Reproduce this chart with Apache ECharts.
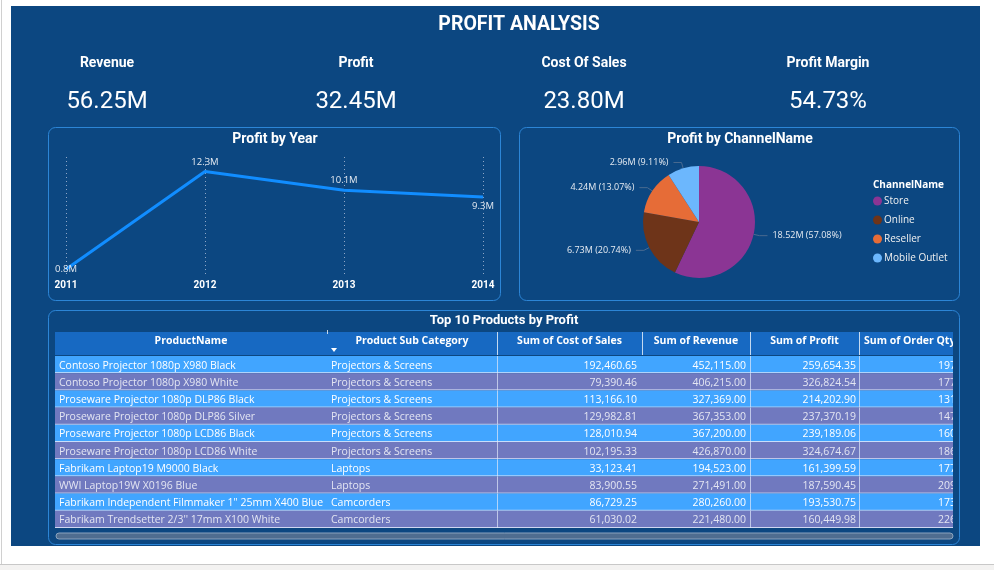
<!DOCTYPE html>
<html>
<head>
<meta charset="utf-8">
<script src="https://cdn.jsdelivr.net/npm/echarts@6/dist/echarts.min.js"></script>
<style>
html,body{margin:0;padding:0;background:#fff;}
#main{width:994px;height:570px;}
</style>
</head>
<body>
<div id="main"></div>
<script>
// KPI cards
const kpiLabels = ['Revenue', 'Profit', 'Cost Of Sales', 'Profit Margin'];
const kpiValues = ['56.25M', '32.45M', '23.80M', '54.73%'];

// Profit by Year (M)
const years = ['2011', '2012', '2013', '2014'];
const yearProfit = [0.8, 12.3, 10.1, 9.3];

// Profit by ChannelName (M)
const channels = ['Store', 'Online', 'Reseller', 'Mobile Outlet'];
const channelProfit = [18.52, 6.73, 4.24, 2.96];
const channelPct = [57.08, 20.74, 13.07, 9.11];

// Top 10 Products by Profit
const tableHeaders = ['ProductName', 'Product Sub Category', 'Sum of Cost of Sales', 'Sum of Revenue', 'Sum of Profit', 'Sum of Order Qty'];
const productNames = [
  'Contoso Projector 1080p X980 Black',
  'Contoso Projector 1080p X980 White',
  'Proseware Projector 1080p DLP86 Black',
  'Proseware Projector 1080p DLP86 Silver',
  'Proseware Projector 1080p LCD86 Black',
  'Proseware Projector 1080p LCD86 White',
  'Fabrikam Laptop19 M9000 Black',
  'WWI Laptop19W X0196 Blue',
  'Fabrikam Independent Filmmaker 1" 25mm X400 Blue',
  "Fabrikam Trendsetter 2/3'' 17mm X100 White"
];
const subCategories = ['Projectors & Screens', 'Projectors & Screens', 'Projectors & Screens', 'Projectors & Screens',
  'Projectors & Screens', 'Projectors & Screens', 'Laptops', 'Laptops', 'Camcorders', 'Camcorders'];
const costOfSales = [192460.65, 79390.46, 113166.10, 129982.81, 128010.94, 102195.33, 33123.41, 83900.55, 86729.25, 61030.02];
const revenue = [452115.00, 406215.00, 327369.00, 367353.00, 367200.00, 426870.00, 194523.00, 271491.00, 280260.00, 221480.00];
const profit = [259654.35, 326824.54, 214202.90, 237370.19, 239189.06, 324674.67, 161399.59, 187590.45, 193530.75, 160449.98];
const orderQty = [197, 177, 131, 147, 160, 186, 177, 209, 173, 226];

const PANEL = '#0c4781';
const BORDER = '#2c85d6';
const TITLE_FONT = 'Roboto, "DejaVu Sans", sans-serif';
const BODY_FONT = '"Open Sans", "Noto Sans", sans-serif';

const chart = echarts.init(document.getElementById('main'));

// column layout of the table (px from table left)
const colEdges = [0, 272, 442, 587, 695, 804, 898];
const tableLeft = 55;

function fmt(v) {
  return v.toLocaleString('en-US', { minimumFractionDigits: 2, maximumFractionDigits: 2 });
}

const graphics = [
  // page bits
  { type: 'rect', shape: { x: 0, y: 564, width: 994, height: 6 }, style: { fill: '#f3f2f1' }, z: -20 },
  { type: 'line', shape: { x1: 0, y1: 564.5, x2: 994, y2: 564.5 }, style: { stroke: '#c8c8c8', lineWidth: 1 }, z: -20 },
  { type: 'line', shape: { x1: 1.5, y1: 0, x2: 1.5, y2: 564 }, style: { stroke: '#d0d0d0', lineWidth: 1 }, z: -20 },
  // main panel
  { type: 'rect', shape: { x: 11, y: 6, width: 969, height: 540 }, style: { fill: PANEL }, z: -10 },
  // cards
  { type: 'rect', shape: { x: 48.5, y: 127.5, width: 452, height: 173, r: 7 }, style: { fill: PANEL, stroke: BORDER, lineWidth: 1 }, z: -5 },
  { type: 'rect', shape: { x: 519.5, y: 127.5, width: 440, height: 173, r: 7 }, style: { fill: PANEL, stroke: BORDER, lineWidth: 1 }, z: -5 },
  { type: 'rect', shape: { x: 48.5, y: 310.5, width: 911, height: 234, r: 7 }, style: { fill: PANEL, stroke: BORDER, lineWidth: 1 }, z: -5 },
  // titles
  { type: 'text', x: 519, y: 25.5, style: { text: 'PROFIT ANALYSIS', fill: '#ffffff', font: 'bold 19.5px ' + TITLE_FONT, align: 'center', verticalAlign: 'middle' } },
  { type: 'text', x: 275, y: 139, style: { text: 'Profit by Year', fill: '#ffffff', font: 'bold 14px ' + TITLE_FONT, align: 'center', verticalAlign: 'middle' } },
  { type: 'text', x: 740, y: 139, style: { text: 'Profit by ChannelName', fill: '#ffffff', font: 'bold 14px ' + TITLE_FONT, align: 'center', verticalAlign: 'middle' } },
  { type: 'text', x: 504, y: 321, style: { text: 'Top 10 Products by Profit', fill: '#ffffff', font: 'bold 13px ' + TITLE_FONT, align: 'center', verticalAlign: 'middle' } },
  { type: 'text', x: 873, y: 185, style: { text: 'ChannelName', fill: '#ffffff', font: 'bold 10px ' + BODY_FONT, align: 'left', verticalAlign: 'middle' } },
  // table header
  { type: 'rect', shape: { x: 55, y: 332, width: 898, height: 23 }, style: { fill: '#1769c2' }, z: 1 },
  { type: 'polygon', shape: { points: [[331, 348], [337, 348], [334, 352]] }, style: { fill: '#ffffff' }, z: 3 },
  // scroll bar
  { type: 'rect', shape: { x: 56, y: 533, width: 897, height: 6, r: 3 }, style: { fill: '#4f6d90', stroke: '#8aa3be', lineWidth: 1 }, z: 1 },
  // cover overflow of the clipped last header
  { type: 'rect', shape: { x: 953, y: 331, width: 6, height: 25 }, style: { fill: PANEL }, z: 5 }
];

kpiLabels.forEach((t, i) => {
  const x = [107, 356, 584, 828][i];
  graphics.push({ type: 'text', x: x, y: 63, style: { text: t, fill: '#ffffff', font: 'bold 14px ' + TITLE_FONT, align: 'center', verticalAlign: 'middle' } });
  graphics.push({ type: 'text', x: x, y: 102, style: { text: kpiValues[i], fill: '#ffffff', font: '24px ' + TITLE_FONT, align: 'center', verticalAlign: 'middle' } });
});

tableHeaders.forEach((t, i) => {
  const last = i === tableHeaders.length - 1;
  const x = last ? tableLeft + colEdges[i] + 5 : tableLeft + (colEdges[i] + colEdges[i + 1]) / 2;
  graphics.push({ type: 'text', x: x, y: 341.5, z: 3, style: { text: t, fill: '#ffffff', font: 'bold 10.5px ' + BODY_FONT, align: last ? 'left' : 'center', verticalAlign: 'middle' } });
  if (i > 0) {
    const ex = tableLeft + colEdges[i] + 0.5;
    graphics.push({ type: 'line', z: 3, shape: { x1: ex, y1: i >= 2 ? 332 : 330, x2: ex, y2: i >= 2 ? 355 : 334 }, style: { stroke: 'rgba(255,255,255,0.75)', lineWidth: 1 } });
  }
});

function renderRow(params, api) {
  const r = api.value(0);
  const c = api.coord([0, r]);
  const h = api.size([0, 1])[1];
  const y0 = c[1] - h / 2;
  const X = v => api.coord([v, r])[0];
  const blue = r % 2 === 0;
  const txt = blue ? '#ffffff' : '#e3e5f2';
  const children = [
    { type: 'rect', shape: { x: X(0), y: y0, width: X(colEdges[6]) - X(0), height: h }, style: { fill: blue ? '#41a5ff' : '#7079bf' } },
    { type: 'line', shape: { x1: X(0), y1: y0 + h - 0.5, x2: X(colEdges[6]), y2: y0 + h - 0.5 }, style: { stroke: 'rgba(225,232,250,0.85)', lineWidth: 1 } }
  ];
  [2, 4, 5].forEach(k => {
    children.push({ type: 'line', shape: { x1: X(colEdges[k]) + 0.5, y1: y0, x2: X(colEdges[k]) + 0.5, y2: y0 + h }, style: { stroke: 'rgba(225,232,250,0.7)', lineWidth: 1 } });
  });
  const cells = [
    [productNames[r], X(4), 'left'],
    [subCategories[r], X(276), 'left'],
    [fmt(costOfSales[r]), X(582), 'right'],
    [fmt(revenue[r]), X(691), 'right'],
    [fmt(profit[r]), X(801), 'right'],
    [String(orderQty[r]), X(883), 'left']
  ];
  cells.forEach(cell => {
    children.push({ type: 'text', style: { text: cell[0], x: cell[1], y: c[1] + 1, align: cell[2], verticalAlign: 'middle', fill: txt, fontSize: 10.5, fontFamily: '"Open Sans", "Noto Sans", sans-serif' } });
  });
  return { type: 'group', children: children };
}

const labelPos = ['inside', 'top', 'top', 'bottom'];

chart.setOption({
  backgroundColor: '#ffffff',
  animation: false,
  graphic: graphics,
  grid: [
    { left: 66, right: 511, top: 157, bottom: 294 },
    { left: tableLeft, width: colEdges[6], top: 356, height: 172 }
  ],
  xAxis: [
    {
      gridIndex: 0, type: 'category', data: years, boundaryGap: false,
      axisLine: { show: false }, axisTick: { show: false },
      axisLabel: { color: '#ffffff', fontWeight: 'bold', fontSize: 10, fontFamily: TITLE_FONT, margin: 4 },
      splitLine: { show: true, lineStyle: { color: '#8ea6c6', type: [1, 3], width: 1 } }
    },
    { gridIndex: 1, type: 'value', min: 0, max: colEdges[6], show: false }
  ],
  yAxis: [
    { gridIndex: 0, type: 'value', min: 0, max: 14, show: false },
    { gridIndex: 1, type: 'category', data: productNames.map((_, i) => i), inverse: true, show: false }
  ],
  legend: {
    orient: 'vertical', left: 873, top: 196, padding: 0, itemGap: 9, itemWidth: 9, itemHeight: 9, icon: 'circle',
    data: channels,
    textStyle: { color: '#f0f0f0', fontSize: 10, fontFamily: BODY_FONT, padding: [0, 0, 0, -3] }
  },
  series: [
    {
      type: 'line', xAxisIndex: 0, yAxisIndex: 0,
      data: yearProfit.map((v, i) => ({ value: v, label: { position: labelPos[i] } })),
      symbol: 'circle', symbolSize: 1, showSymbol: true,
      itemStyle: { color: '#118dff' },
      lineStyle: { color: '#118dff', width: 3 },
      label: {
        show: true, color: '#e6ebf2', fontSize: 9.5, fontFamily: BODY_FONT, distance: 4,
        formatter: p => p.value.toFixed(1) + 'M'
      },
      z: 3
    },
    {
      type: 'pie', center: [699, 222], radius: 56, avoidLabelOverlap: false,
      color: ['#8b3594', '#6e3419', '#e66c37', '#6cb7fd'],
      data: channels.map((n, i) => ({ name: n, value: channelProfit[i] })),
      label: {
        color: '#e6ebf2', fontSize: 9, fontFamily: BODY_FONT,
        formatter: p => p.value.toFixed(2) + 'M (' + channelPct[p.dataIndex].toFixed(2) + '%)'
      },
      labelLine: { length: 6, length2: 8, lineStyle: { color: '#4a6a90', width: 1 } },
      itemStyle: { borderWidth: 0 }
    },
    {
      type: 'custom', xAxisIndex: 1, yAxisIndex: 1, clip: true,
      data: productNames.map((_, i) => [i]),
      encode: { y: 0 },
      renderItem: renderRow,
      z: 3
    }
  ]
});
</script>
</body>
</html>
